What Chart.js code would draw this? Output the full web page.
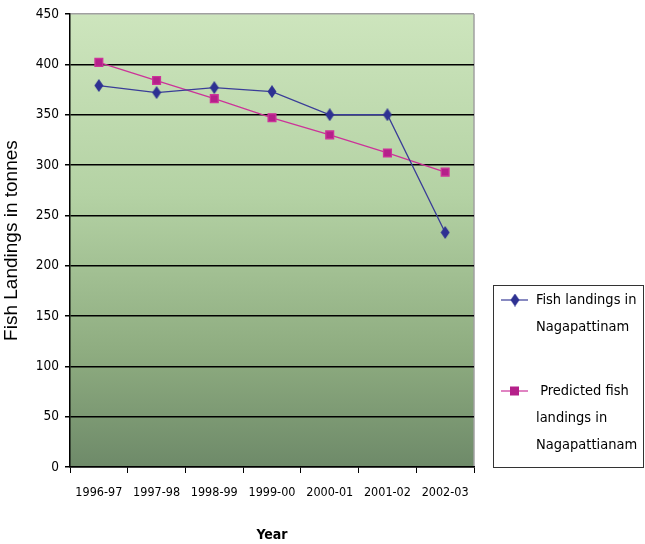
<!DOCTYPE html>
<html>
<head>
<meta charset="utf-8">
<script src="https://cdn.jsdelivr.net/npm/chart.js@4"></script>
<style>
  html, body { margin: 0; padding: 0; background: #fff; }
  #wrap { width: 645px; height: 544px; position: relative; }
</style>
</head>
<body>
<div id="wrap"><canvas id="fishChart" width="645" height="544"></canvas></div>
<script>
const years = ['1996-97', '1997-98', '1998-99', '1999-00', '2000-01', '2001-02', '2002-03'];
const actualLandings = [379, 372, 377, 373, 350, 350, 233];
const predictedLandings = [402, 384, 366, 347, 330, 312, 293];
const seriesNames = [['Fish landings in', 'Nagapattinam'], [' Predicted fish', 'landings in', 'Nagapattianam']];
const yMax = 450;
const yStep = 50;

const narrow = "'DejaVu Sans Condensed', 'Liberation Sans Narrow', sans-serif";

// tall narrow diamond like the Excel marker
function makeDiamond(color) {
    const c = document.createElement('canvas');
    c.width = 10;
    c.height = 13;
    const x = c.getContext('2d');
    x.fillStyle = color;
    x.beginPath();
    x.moveTo(5, 0);
    x.lineTo(9.5, 6.5);
    x.lineTo(5, 13);
    x.lineTo(0.5, 6.5);
    x.closePath();
    x.fill();
    return c;
}
const diamond = makeDiamond('#2e3192');

// green gradient behind the plot area
const plotBackground = {
    id: 'plotBackground',
    beforeDraw(chart) {
        const { ctx, chartArea: a } = chart;
        const g = ctx.createLinearGradient(0, a.top, 0, a.bottom);
        g.addColorStop(0, '#cde5bd');
        g.addColorStop(0.4, '#b4d2a4');
        g.addColorStop(0.75, '#8eac80');
        g.addColorStop(1, '#6e8a69');
        ctx.save();
        ctx.fillStyle = g;
        ctx.fillRect(a.left, a.top, a.right - a.left, a.bottom - a.top);
        ctx.strokeStyle = '#a0a0a0';
        ctx.lineWidth = 1.5;
        ctx.beginPath();
        ctx.moveTo(a.right, a.top);
        ctx.lineTo(a.right, a.bottom);
        ctx.stroke();
        ctx.restore();
    }
};

// boxed legend at the lower right, multi-line labels
const boxLegend = {
    id: 'boxLegend',
    afterDraw(chart) {
        const ctx = chart.ctx;
        const box = { x: 493, y: 285, w: 150, h: 182 };
        ctx.save();
        ctx.strokeStyle = '#333';
        ctx.lineWidth = 1;
        ctx.strokeRect(box.x + 0.5, box.y + 0.5, box.w, box.h);
        ctx.font = '14.5px ' + narrow;
        ctx.fillStyle = '#000';
        ctx.textBaseline = 'middle';
        const starts = [300, 391];
        chart.data.datasets.forEach((ds, i) => {
            const y = starts[i];
            ctx.strokeStyle = ds.borderColor;
            ctx.lineWidth = 1.2;
            ctx.beginPath();
            ctx.moveTo(501, y);
            ctx.lineTo(528, y);
            ctx.stroke();
            if (i === 0) {
                ctx.drawImage(diamond, 510, y - 6.5);
            } else {
                ctx.fillStyle = ds.backgroundColor;
                ctx.fillRect(510, y - 4.5, 9, 9);
            }
            ctx.fillStyle = '#000';
            seriesNames[i].forEach((line, k) => {
                ctx.fillText(line, 536, y + k * 27);
            });
        });
        ctx.restore();
    }
};

new Chart(document.getElementById('fishChart'), {
    type: 'line',
    data: {
        labels: years,
        datasets: [{
            label: 'Fish landings in Nagapattinam',
            data: actualLandings,
            borderColor: '#3a3d98',
            backgroundColor: '#2e3192',
            borderWidth: 1.3,
            pointStyle: diamond,
            pointRadius: 6,
            pointHoverRadius: 6,
            tension: 0
        }, {
            label: 'Predicted fish landings in Nagapattianam',
            data: predictedLandings,
            borderColor: '#cc3399',
            backgroundColor: '#b5208a',
            borderWidth: 1.3,
            pointStyle: 'rect',
            pointRadius: 5.5,
            pointHoverRadius: 5.5,
            tension: 0
        }]
    },
    options: {
        responsive: false,
        animation: false,
        layout: { padding: { top: 13, right: 171, left: 0, bottom: 0 } },
        plugins: {
            legend: { display: false },
            tooltip: { enabled: false }
        },
        scales: {
            x: {
                offset: true,
                grid: {
                    offset: true,
                    drawOnChartArea: false,
                    drawTicks: true,
                    tickLength: 6,
                    tickColor: '#000'
                },
                border: { color: '#000', width: 1.5 },
                ticks: {
                    color: '#000',
                    font: { family: narrow, size: 12.5 },
                    padding: 12,
                    maxRotation: 0
                },
                title: {
                    display: true,
                    text: 'Year',
                    color: '#000',
                    font: { family: narrow, size: 14, weight: 'bold' },
                    padding: { top: 20, bottom: 0 }
                },
                afterFit(scale) { scale.height = 77; }
            },
            y: {
                min: 0,
                max: yMax,
                ticks: {
                    stepSize: yStep,
                    color: '#000',
                    font: { family: narrow, size: 13.5 },
                    padding: 6
                },
                grid: {
                    color: ctx => ctx.tick && ctx.tick.value === yMax ? '#a0a0a0' : '#000',
                    lineWidth: 1.5,
                    tickLength: 5,
                    tickColor: '#000'
                },
                border: { color: '#000', width: 1.5 },
                title: {
                    display: true,
                    text: 'Fish Landings in tonnes',
                    color: '#000',
                    font: { family: "'Liberation Sans', Arial, sans-serif", size: 19 },
                    padding: { top: 0, bottom: 2 }
                },
                afterFit(scale) { scale.width = 70; }
            }
        }
    },
    plugins: [plotBackground, boxLegend]
});
</script>
</body>
</html>
